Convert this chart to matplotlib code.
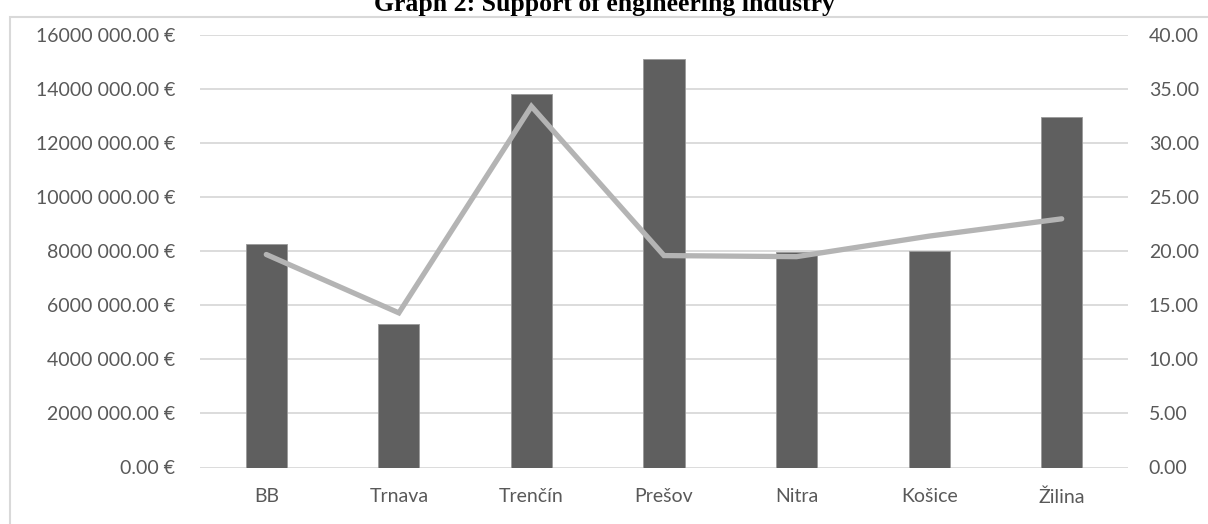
import matplotlib.pyplot as plt
import matplotlib.ticker as mticker
import numpy as np

regions = ["BB", "Trnava", "Trenčín", "Prešov", "Nitra", "Košice", "Žilina"]
support_eur = [8270000, 5300000, 13820000, 15130000, 7980000, 8020000, 12980000]
ratio = [19.7, 14.3, 33.4, 19.6, 19.5, 21.4, 23.0]

left_ticks = [0, 2000000, 4000000, 6000000, 8000000, 10000000, 12000000, 14000000, 16000000]
right_ticks = [0, 5, 10, 15, 20, 25, 30, 35, 40]

TEXT = "#595959"
GRID = "#d9d9d9"
BAR = "#5f5f5f"
LINE = "#b4b4b4"

plt.rcParams['font.family'] = ['Lato', 'DejaVu Sans']

W, H = 1208, 524
fig = plt.figure(figsize=(W / 100, H / 100), dpi=100)

# outer chart border (partly cut off like the source)
fig.patches.append(plt.Rectangle((10 / W, -0.1), 1.2, 1 - 17 / H + 0.1,
                                 transform=fig.transFigure, fill=False,
                                 edgecolor="#d9d9d9", linewidth=1.5))

fig.text(0.5, 1 - 11 / H, "Graph 2: Support of engineering industry",
         ha="center", va="baseline", fontsize=18.5, fontweight="bold",
         family="Liberation Serif", color="black")

ax = fig.add_axes([200 / W, 56.5 / H, 928 / W, 432.5 / H])
x = np.arange(len(regions))
ax.bar(x, support_eur, width=0.31, color=BAR, edgecolor="#9a9a9a", linewidth=0.6, zorder=2)
ax.set_xlim(-0.5, len(regions) - 0.5)
ax.set_ylim(0, 16000000)
ax.set_yticks(left_ticks)


def eur_fmt(v, pos):
    if v == 0:
        return "0.00 €"
    v = int(round(v))
    return f"{v // 1000} {v % 1000:03d}.00 €"


ax.yaxis.set_major_formatter(mticker.FuncFormatter(eur_fmt))
ax.set_xticks(x)
ax.set_xticklabels(regions)
ax.grid(axis="y", color=GRID, linewidth=1.3, zorder=0)
ax.set_axisbelow(True)
for s in ax.spines.values():
    s.set_visible(False)
ax.tick_params(axis="y", length=0, pad=18, labelsize=14, labelcolor=TEXT)
ax.tick_params(axis="x", length=0, pad=15, labelsize=14, labelcolor=TEXT)

ax2 = ax.twinx()
ax2.plot(x, ratio, color=LINE, linewidth=3.8, solid_capstyle="round",
         solid_joinstyle="miter", zorder=3)
ax2.set_ylim(0, 40)
ax2.set_yticks(right_ticks)
ax2.yaxis.set_major_formatter(mticker.FormatStrFormatter("%.2f"))
for s in ax2.spines.values():
    s.set_visible(False)
ax2.tick_params(axis="y", length=0, pad=15, labelsize=14, labelcolor=TEXT)

fig.savefig("out.png", dpi=100)
